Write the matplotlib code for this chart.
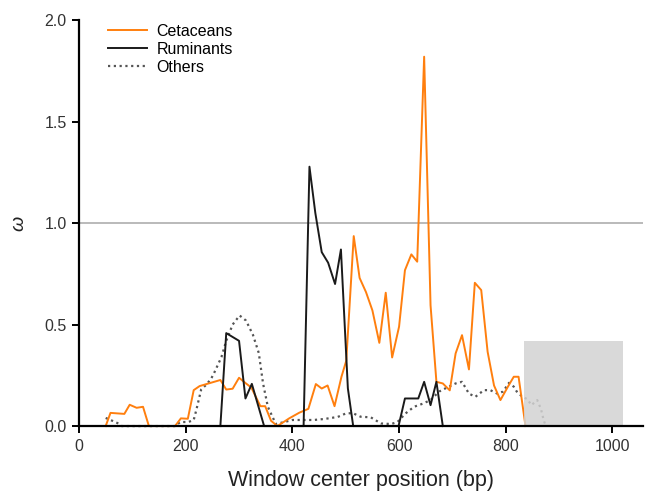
import matplotlib
matplotlib.use("Agg")
import matplotlib.pyplot as plt
from matplotlib.patches import Rectangle

plt.rcParams["font.family"] = ["Liberation Sans", "DejaVu Sans"]

# ----------------------------
# Data
# ----------------------------

cet_x = [50, 59, 85, 95, 108, 120, 131, 145, 160, 180, 191, 204, 215, 226, 265,
         276, 288, 300, 313, 323, 340, 349, 360, 372, 394, 413, 430, 444, 455,
         466, 479, 492, 501, 515, 526, 538, 550, 563, 575, 587, 600, 611, 623,
         634, 647, 659, 670, 682, 695, 706, 718, 731, 742, 754, 766, 778, 790,
         804, 815, 824, 837]
cet_y = [0.0, 0.065, 0.06, 0.105, 0.09, 0.095, 0.0, 0.0, 0.0, 0.0, 0.038, 0.036,
         0.177, 0.197, 0.227, 0.18, 0.184, 0.238, 0.21, 0.19, 0.098, 0.098,
         0.026, 0.0, 0.038, 0.066, 0.085, 0.207, 0.185, 0.2, 0.098, 0.243,
         0.322, 0.936, 0.73, 0.66, 0.57, 0.41, 0.657, 0.338, 0.49, 0.768,
         0.846, 0.81, 1.82, 0.595, 0.218, 0.21, 0.176, 0.358, 0.448, 0.279,
         0.706, 0.67, 0.366, 0.2, 0.128, 0.194, 0.243, 0.243, 0.0]

rum_x = [265, 276, 300, 312, 324, 347, 380, 421, 432, 443, 455, 467, 480, 491,
         504, 514, 560, 599, 611, 636, 647, 659, 670, 682]
rum_y = [0.0, 0.458, 0.42, 0.136, 0.208, 0.0, 0.0, 0.0, 1.278, 1.05, 0.857,
         0.805, 0.70, 0.87, 0.186, 0.0, 0.0, 0.0, 0.136, 0.136, 0.218, 0.103,
         0.218, 0.0]

oth_x = [50, 59, 72, 80, 120, 180, 190, 205, 215, 220, 229, 237, 247, 253, 267,
         276, 288, 301, 313, 326, 337, 345, 354, 369, 385, 400, 419, 440, 460,
         485, 500, 513, 528, 547, 566, 585, 597, 612, 628, 644, 659, 675, 693,
         706, 718, 731, 743, 759, 771, 784, 795, 806, 815, 822, 830, 841, 848,
         859, 866, 871, 875]
oth_y = [0.04, 0.03, 0.015, 0.0, 0.0, 0.0, 0.02, 0.02, 0.03, 0.08, 0.18, 0.2,
         0.23, 0.26, 0.34, 0.42, 0.5, 0.545, 0.52, 0.45, 0.36, 0.21, 0.095,
         0.01, 0.02, 0.03, 0.03, 0.03, 0.035, 0.045, 0.062, 0.064, 0.046,
         0.043, 0.013, 0.01, 0.02, 0.062, 0.095, 0.11, 0.128, 0.17, 0.194,
         0.21, 0.218, 0.16, 0.144, 0.177, 0.177, 0.16, 0.17, 0.213, 0.194,
         0.164, 0.148, 0.131, 0.103, 0.128, 0.084, 0.03, 0.0]

# shaded region (x start, x end, height)
shade_x0, shade_x1, shade_h = 835, 1020, 0.42

# ----------------------------
# Plot
# ----------------------------

fig = plt.figure(figsize=(6.45, 4.92), dpi=100)
ax = fig.add_axes([0.1225, 0.134, 0.875, 0.825])

ax.axhline(1.0, color="#b4b4b4", linewidth=1.3, zorder=1)

ax.plot(cet_x, cet_y, color="#ff7f0e", linewidth=1.4, label="Cetaceans",
        zorder=3, clip_on=False)
ax.plot(rum_x, rum_y, color="#1a1a1a", linewidth=1.4, label="Ruminants",
        zorder=4, clip_on=False)
ax.plot(oth_x, oth_y, color="#555555", linewidth=1.6, linestyle=(0, (1.0, 1.6)),
        dash_capstyle="butt", label="Others", zorder=2, clip_on=False)

ax.add_patch(Rectangle((shade_x0, 0), shade_x1 - shade_x0, shade_h,
                       facecolor="#d3d3d3", edgecolor="none", alpha=0.85,
                       zorder=5))

ax.set_xlim(0, 1058)
ax.set_ylim(0, 2.0)
ax.set_xticks([0, 200, 400, 600, 800, 1000])
ax.set_yticks([0.0, 0.5, 1.0, 1.5, 2.0])
ax.set_yticklabels(["0.0", "0.5", "1.0", "1.5", "2.0"])

for side in ("top", "right"):
    ax.spines[side].set_visible(False)
for side in ("left", "bottom"):
    ax.spines[side].set_linewidth(1.6)
    ax.spines[side].set_zorder(6)

ax.tick_params(direction="out", length=5, width=1.4, labelsize=11.5,
               labelcolor="#333333", pad=4)

ax.set_xlabel("Window center position (bp)", fontsize=15.5, color="#222222",
              labelpad=12)
ax.set_ylabel("ω", fontsize=14, fontstyle="italic", color="#222222",
              labelpad=12)

ax.legend(loc="upper left", bbox_to_anchor=(0.035, 1.015), frameon=False,
          fontsize=11.5, handlelength=2.4, handletextpad=0.6,
          labelspacing=0.2, borderaxespad=0.2)

fig.savefig("out.png", dpi=100)
